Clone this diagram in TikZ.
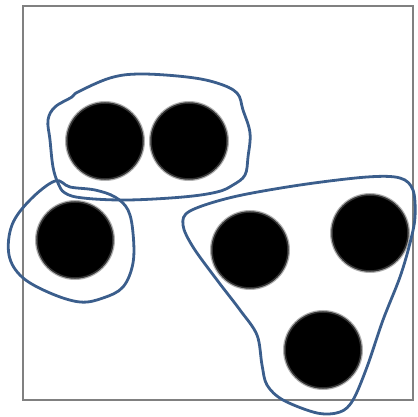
\documentclass[tikz,border=0pt]{standalone}
\definecolor{loopblue}{RGB}{59,94,140}
\begin{document}
\begin{tikzpicture}
        [x=1pt,y=-1pt,
        frame/.style={draw=black!50,line width=2.8pt},
        disc/.style={circle,fill=black,draw=black!80,line width=1.5pt,minimum size=76pt,inner sep=0pt,
          preaction={draw=black!30,line width=4pt}},
        loop/.style={draw=loopblue,line width=2.8pt,line join=round}]
        \useasboundingbox (0,0) rectangle (418,417);
        \draw[frame] (23,6) rectangle (413,400);
        \node[disc] (d1) at (105,141) {};
        \node[disc] (d2) at (189,141) {};
        \node[disc] (d3) at (75,240) {};
        \node[disc] (d4) at (250,250) {};
        \node[disc] (d5) at (370,233) {};
        \node[disc] (d6) at (323,350) {};
        \draw[loop] plot[smooth cycle,tension=0.6] coordinates {
          (72,97) (78,92) (110,78) (140,74) (187,77) (217,83) (237,93) (243,110)
          (250,133) (248,157) (245,175) (233,185) (217,192) (183,197) (127,200)
          (83,198) (65,193) (58,183) (53,167) (50,140) (48,120) (55,107)};
        \draw[loop] plot[smooth cycle,tension=0.6] coordinates {
          (55,181) (30,200) (12,225) (9,255) (22,277) (50,293) (80,302) (103,298)
          (123,287) (133,263) (133,233) (128,210) (115,197) (95,190) (70,187)};
        \draw[loop] plot[smooth cycle,tension=0.55] coordinates {
          (190,211) (233,197) (300,185) (367,177) (400,178) (413,190) (415,217)
          (410,243) (400,277) (383,320) (367,367) (353,400) (340,412) (317,413)
          (283,400) (267,385) (262,365) (257,335) (240,310) (217,280) (193,247)
          (183,225)};
      \end{tikzpicture}
\end{document}
